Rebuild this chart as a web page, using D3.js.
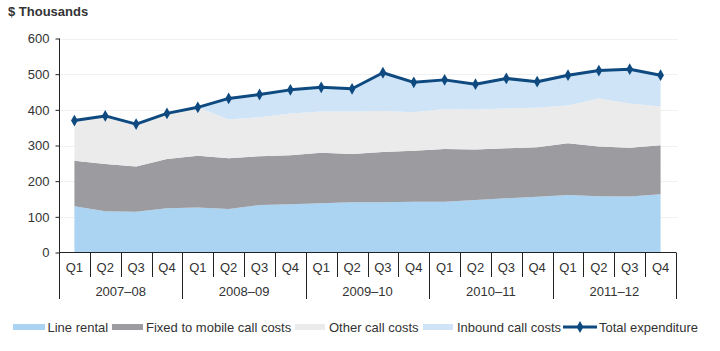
<!DOCTYPE html>
<html>
<head>
<meta charset="utf-8">
<script src="https://cdn.jsdelivr.net/npm/d3@7"></script>
<style>
  body { margin: 0; background: #fff; }
  svg { display: block; font-family: "Liberation Sans", Arial, sans-serif; }
</style>
</head>
<body>
<svg id="chart" width="720" height="351"></svg>
<script>
// Data ($ thousands)
const years = ["2007–08", "2008–09", "2009–10", "2010–11", "2011–12"];
const quarters = ["Q1", "Q2", "Q3", "Q4"];
const lineRental = [130, 116, 114, 124, 126, 122, 133, 135, 138, 141, 141, 142, 142, 147, 152, 156, 161, 158, 157, 163];
const fixedToMobile = [127, 132, 127, 138, 145, 142, 137, 138, 142, 135, 141, 143, 148, 142, 140, 139, 145, 139, 137, 138];
const otherCalls = [113, 135, 119, 128, 136, 109, 109, 117, 115, 119, 115, 108, 112, 112, 112, 111, 106, 135, 124, 108];
const inboundCalls = [0, 0, 0, 0, 0, 59, 64, 66, 68, 64, 107, 84, 82, 71, 84, 73, 85, 78, 96, 88];
const totalExpenditure = [370, 383, 360, 390, 407, 432, 443, 456, 463, 459, 504, 477, 484, 472, 488, 479, 497, 510, 514, 497];
const yTicks = [0, 100, 200, 300, 400, 500, 600];

const seriesKeys = ["Line rental", "Fixed to mobile call costs", "Other call costs", "Inbound call costs"];
const seriesColors = ["#aad4f1", "#9b9ba0", "#ebebec", "#cfe5f7"];
const lineColor = "#0e4a80";

const svg = d3.select("#chart");

// Build rows for the stack
const rows = [];
years.forEach((yr, yi) => {
  quarters.forEach((q, qi) => {
    const i = yi * 4 + qi;
    rows.push({
      id: i,
      year: yr,
      quarter: q,
      "Line rental": lineRental[i],
      "Fixed to mobile call costs": fixedToMobile[i],
      "Other call costs": otherCalls[i],
      "Inbound call costs": inboundCalls[i],
      total: totalExpenditure[i]
    });
  });
});

const x = d3.scaleBand()
  .domain(rows.map(d => d.id))
  .range([59, 676])
  .paddingInner(0)
  .paddingOuter(0);

const y = d3.scaleLinear()
  .domain([0, 600])
  .range([252.5, 38.5]);

const cx = d => x(d.id) + x.bandwidth() / 2;

// Gridlines
svg.append("g")
  .selectAll("line")
  .data(yTicks.slice(1))
  .enter()
  .append("line")
  .attr("x1", 59)
  .attr("x2", 678)
  .attr("y1", d => Math.round(y(d)) + 0.5)
  .attr("y2", d => Math.round(y(d)) + 0.5)
  .attr("stroke", "#f1f1f1")
  .attr("stroke-width", 1);

// Stacked areas
const stack = d3.stack().keys(seriesKeys);
const layers = stack(rows);

const area = d3.area()
  .x(d => cx(d.data))
  .y0(d => y(d[0]))
  .y1(d => y(d[1]));

svg.append("g")
  .selectAll("path")
  .data(layers)
  .enter()
  .append("path")
  .attr("d", area)
  .attr("fill", (d, i) => seriesColors[i]);

// Y axis
const yAxis = d3.axisLeft(y)
  .tickValues(yTicks)
  .tickSize(4)
  .tickPadding(6);

const gy = svg.append("g")
  .attr("transform", "translate(59.5,0)")
  .call(yAxis);
gy.select(".domain").attr("stroke", "#222").attr("d", `M0,${y(600)}V${y(0)}`);
gy.selectAll(".tick line").attr("stroke", "#222");
gy.selectAll(".tick text")
  .attr("font-size", "13px")
  .attr("fill", "#333")
  .attr("font-family", "Liberation Sans, Arial, sans-serif");

// X axis: baseline, quarter ticks, year separators
const gx = svg.append("g");
gx.append("line")
  .attr("x1", 59).attr("x2", 676)
  .attr("y1", 252.5).attr("y2", 252.5)
  .attr("stroke", "#222");

gx.selectAll(".qtick")
  .data(rows.slice(1).filter(d => d.quarter !== "Q1"))
  .enter()
  .append("line")
  .attr("class", "qtick")
  .attr("x1", d => Math.round(x(d.id)) + 0.5)
  .attr("x2", d => Math.round(x(d.id)) + 0.5)
  .attr("y1", 252.5)
  .attr("y2", 277)
  .attr("stroke", "#222");

const yearEdges = years.map((yr, yi) => yi * 4).concat([rows.length]);
gx.selectAll(".ytick")
  .data(yearEdges)
  .enter()
  .append("line")
  .attr("class", "ytick")
  .attr("x1", d => Math.round(d < rows.length ? x(d) : x.range()[1]) + 0.5)
  .attr("x2", d => Math.round(d < rows.length ? x(d) : x.range()[1]) + 0.5)
  .attr("y1", 252.5)
  .attr("y2", 299)
  .attr("stroke", "#222");

gx.selectAll(".qlabel")
  .data(rows)
  .enter()
  .append("text")
  .attr("class", "qlabel")
  .attr("x", d => cx(d))
  .attr("y", 272)
  .attr("text-anchor", "middle")
  .attr("font-size", "13px")
  .attr("fill", "#333")
  .text(d => d.quarter);

gx.selectAll(".ylabel")
  .data(years)
  .enter()
  .append("text")
  .attr("class", "ylabel")
  .attr("x", (d, i) => (x(i * 4) + x(i * 4 + 3) + x.bandwidth()) / 2)
  .attr("y", 296)
  .attr("text-anchor", "middle")
  .attr("font-size", "13px")
  .attr("fill", "#333")
  .text(d => d);

// Total expenditure line
const line = d3.line()
  .x(d => cx(d))
  .y(d => y(d.total));

svg.append("path")
  .datum(rows)
  .attr("d", line)
  .attr("fill", "none")
  .attr("stroke", lineColor)
  .attr("stroke-width", 3)
  .attr("stroke-linejoin", "round");

const diamond = d3.symbol().type(d3.symbolDiamond).size(40);
svg.append("g")
  .selectAll("path")
  .data(rows)
  .enter()
  .append("path")
  .attr("transform", d => `translate(${cx(d)},${y(d.total)})`)
  .attr("d", diamond)
  .attr("fill", lineColor);

// Title
svg.append("text")
  .attr("x", 8)
  .attr("y", 16)
  .attr("font-size", "13px")
  .attr("font-weight", "bold")
  .attr("fill", "#333")
  .text("$ Thousands");

// Legend
const legendItems = [
  { label: seriesKeys[0], color: seriesColors[0], x: 13, w: 32, tx: 47.5 },
  { label: seriesKeys[1], color: seriesColors[1], x: 112, w: 31, tx: 146 },
  { label: seriesKeys[2], color: seriesColors[2], x: 295, w: 30, tx: 329 },
  { label: seriesKeys[3], color: seriesColors[3], x: 423, w: 30, tx: 457 }
];
const legend = svg.append("g");
legendItems.forEach(item => {
  legend.append("rect")
    .attr("x", item.x)
    .attr("y", 324)
    .attr("width", item.w)
    .attr("height", 6)
    .attr("fill", item.color);
  legend.append("text")
    .attr("x", item.tx)
    .attr("y", 331.5)
    .attr("font-size", "13px")
    .attr("fill", "#333")
    .text(item.label);
});
legend.append("line")
  .attr("x1", 563).attr("x2", 597)
  .attr("y1", 327).attr("y2", 327)
  .attr("stroke", lineColor)
  .attr("stroke-width", 3);
legend.append("path")
  .attr("transform", "translate(580,327)")
  .attr("d", diamond)
  .attr("fill", lineColor);
legend.append("text")
  .attr("x", 599)
  .attr("y", 331.5)
  .attr("font-size", "13px")
  .attr("fill", "#333")
  .text("Total expenditure");
</script>
</body>
</html>
